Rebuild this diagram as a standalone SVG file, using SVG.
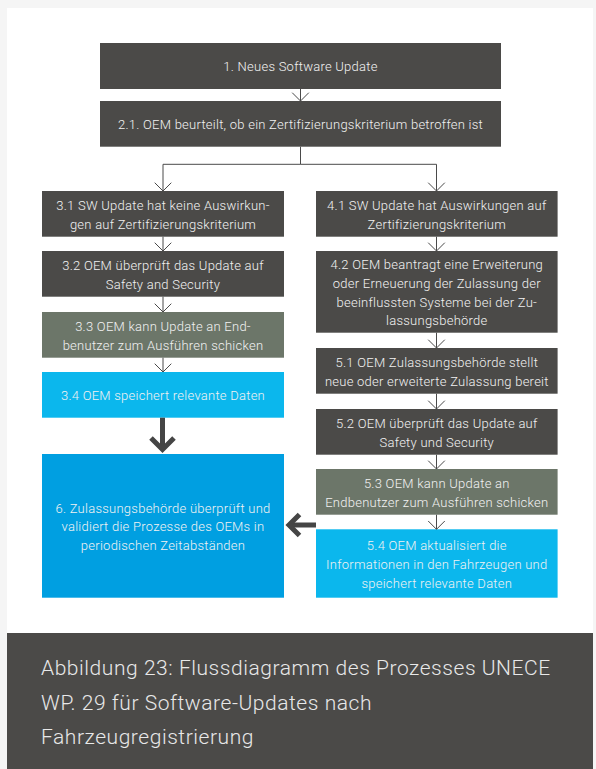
<svg xmlns="http://www.w3.org/2000/svg" width="596" height="769" viewBox="0 0 596 769">
<defs>
<style>
.bg{fill:#f5f5f5}
.panel{fill:#ffffff}
.dark{fill:#4b4a48}
.olive{fill:#6c7669}
.light{fill:#0bb7ed}
.blue{fill:#009fe1}
.t{font-family:Roboto,"Liberation Sans",sans-serif;font-weight:300;font-size:13px;letter-spacing:0.25px;fill:#f2f2f2;text-anchor:middle}
.cap{font-family:Roboto,"Liberation Sans",sans-serif;font-weight:300;font-size:21px;letter-spacing:0.55px;fill:#e8e8e8}
.thin{stroke:#4a4a4a;stroke-width:1;fill:none}
.thick{stroke:#454545;stroke-width:5;fill:none}
</style>
<marker id="open" markerUnits="userSpaceOnUse" markerWidth="20" markerHeight="20" refX="10" refY="10" orient="auto">
<path d="M1.7,1.7 L10,10 L1.7,18.3" fill="none" stroke="#4a4a4a" stroke-width="1"/>
</marker>
</defs>
<rect class="bg" x="0" y="0" width="596" height="769"/>
<rect class="panel" x="7" y="8" width="586" height="625"/>

<g id="n1"><rect class="dark" x="100" y="43" width="401" height="46"/><text class="t" x="300.5" y="71">1. Neues Software Update</text></g>
<g id="n2"><rect class="dark" x="100" y="101" width="401" height="45.7"/><text class="t" x="300.5" y="129.3">2.1. OEM beurteilt, ob ein Zertifizierungskriterium betroffen ist</text></g>

<g id="n31"><rect class="dark" x="42" y="191" width="242" height="45.7"/><text class="t" x="163" y="210">3.1 SW Update hat keine Auswirkun-</text><text class="t" x="163" y="228.7">gen auf Zertifizierungskriterium</text></g>
<g id="n32"><rect class="dark" x="42" y="251" width="242" height="45.7"/><text class="t" x="163" y="270">3.2 OEM überprüft das Update auf</text><text class="t" x="163" y="288.7">Safety and Security</text></g>
<g id="n33"><rect class="olive" x="42" y="312" width="242" height="45.7"/><text class="t" x="163" y="331">3.3 OEM kann Update an End-</text><text class="t" x="163" y="349.7">benutzer zum Ausführen schicken</text></g>
<g id="n34"><rect class="light" x="42" y="372" width="242" height="45.7"/><text class="t" x="163" y="400.3">3.4 OEM speichert relevante Daten</text></g>
<g id="n6"><rect class="blue" x="42" y="454" width="242" height="143.7"/><text class="t" x="163" y="512.7">6. Zulassungsbehörde überprüft und</text><text class="t" x="163" y="531.4">validiert die Prozesse des OEMs in</text><text class="t" x="163" y="550">periodischen Zeitabständen</text></g>

<g id="n41"><rect class="dark" x="316" y="191" width="241.6" height="45.7"/><text class="t" x="436.8" y="210">4.1 SW Update hat Auswirkungen auf</text><text class="t" x="436.8" y="228.7">Zertifizierungskriterium</text></g>
<g id="n42"><rect class="dark" x="316" y="251" width="241.6" height="81.7"/><text class="t" x="436.8" y="269.3">4.2 OEM beantragt eine Erweiterung</text><text class="t" x="436.8" y="288">oder Erneuerung der Zulassung der</text><text class="t" x="436.8" y="306.7">beeinflussten Systeme bei der Zu-</text><text class="t" x="436.8" y="325.4">lassungsbehörde</text></g>
<g id="n51"><rect class="dark" x="316" y="348" width="241.6" height="45.7"/><text class="t" x="436.8" y="367">5.1 OEM Zulassungsbehörde stellt</text><text class="t" x="436.8" y="385.7">neue oder erweiterte Zulassung bereit</text></g>
<g id="n52"><rect class="dark" x="316" y="409" width="241.6" height="45.7"/><text class="t" x="436.8" y="428">5.2 OEM überprüft das Update auf</text><text class="t" x="436.8" y="446.7">Safety und Security</text></g>
<g id="n53"><rect class="olive" x="316" y="469" width="241.6" height="45.7"/><text class="t" x="436.8" y="488">5.3 OEM kann Update an</text><text class="t" x="436.8" y="506.7">Endbenutzer zum Ausführen schicken</text></g>
<g id="n54"><rect class="light" x="316" y="529.3" width="241.6" height="68.4"/><text class="t" x="436.8" y="550.2">5.4 OEM aktualisiert die</text><text class="t" x="436.8" y="568.9">Informationen in den Fahrzeugen und</text><text class="t" x="436.8" y="587.5">speichert relevante Daten</text></g>

<g id="connectors">
<path class="thin" d="M300.5,89 V101" marker-end="url(#open)"/>
<path class="thin" d="M300.5,146.7 V164.3 H163 V191" marker-end="url(#open)"/>
<path class="thin" d="M300.5,164.3 H436.5 V191" marker-end="url(#open)"/>
<path class="thin" d="M163,236.7 V251" marker-end="url(#open)"/>
<path class="thin" d="M163,296.7 V312" marker-end="url(#open)"/>
<path class="thin" d="M163,357.7 V372" marker-end="url(#open)"/>
<path class="thin" d="M436.5,236.7 V251" marker-end="url(#open)"/>
<path class="thin" d="M436.5,332.7 V348" marker-end="url(#open)"/>
<path class="thin" d="M436.5,393.7 V409" marker-end="url(#open)"/>
<path class="thin" d="M436.5,454.7 V469" marker-end="url(#open)"/>
<path class="thin" d="M436.5,514.7 V529.3" marker-end="url(#open)"/>
<path class="thick" d="M162.5,417.7 V449"/>
<path class="thick" d="M151,438 L162.5,449.5 L174,438"/>
<path class="thick" d="M316,525 H289"/>
<path class="thick" d="M299.5,514.5 L289,525 L299.5,535.5"/>
</g>

<g id="caption">
<rect class="dark" x="7" y="633" width="586" height="136"/>
<text class="cap" x="41" y="675">Abbildung 23: Flussdiagramm des Prozesses UNECE</text>
<text class="cap" x="41" y="709.5">WP. 29 für Software-Updates nach</text>
<text class="cap" x="41" y="744">Fahrzeugregistrierung</text>
</g>
</svg>
